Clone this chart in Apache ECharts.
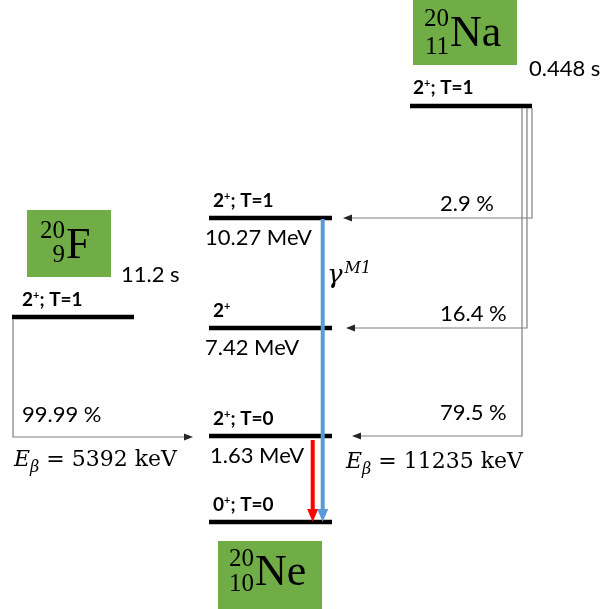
<!DOCTYPE html>
<html>
<head>
<meta charset="utf-8">
<script src="https://cdn.jsdelivr.net/npm/echarts@6/dist/echarts.min.js"></script>
<style>
html,body{margin:0;padding:0;background:#fff;}
#chart{width:603px;height:609px;}
</style>
</head>
<body>
<div id="chart"></div>
<script>
// nuclides: two parents (F, Na) and the daughter Ne
const nuclides = ['F', 'Na', 'Ne'];
const massNumbers = [20, 20, 20];
const atomicNumbers = [9, 11, 10];
const parentSpins = ['2+; T=1', '2+; T=1'];
const parentHalfLives = ['11.2 s', '0.448 s'];

// levels in 20Ne
const neEnergies = [0, 1.63, 7.42, 10.27]; // MeV
const neSpins = ['0+; T=0', '2+; T=0', '2+', '2+; T=1'];

// beta feeding (level index in neEnergies, branch in %)
const fFeedLevels = [1];
const fBranches = [99.99];
const naFeedLevels = [3, 2, 1];
const naBranches = [2.9, 16.4, 79.5];
const betaEndpoints = [5392, 11235]; // keV, F then Na

// gamma transitions
const gammaFrom = [3, 1];
const gammaTo = [0, 0];
const gammaMultipoles = ['M1', ''];

// ---- drawing layout (pixels of the 603x609 frame) ----
const layout = {
	boxes: [[27, 210, 84, 67], [413, 0, 104, 65], [218, 541, 104, 70]],
	symbolAt: [[66, 246], [450, 34], [255, 573]],
	scriptShift: [[-15, 9], [-15, 13], [-14, 11]],
	parentLevels: [[12, 134, 317], [410, 532, 106]],
	parentSpinAt: [[22, 300], [413, 88]],
	halfLifeAt: [[121, 275], [529, 69]],
	neLevelX: [209, 332],
	neLevelY: [522, 436, 328, 218],
	neSpinX: 213,
	neEnergyX: [210, 210, 205, 205],
	feedRoutes: [
		{dropX: 13, tipX: 193, label: [22, 415]},
		{dropX: 532, tipX: 343, label: [440, 204]},
		{dropX: 527, tipX: 346, label: [440, 314]},
		{dropX: 522, tipX: 352, label: [440, 413]}
	],
	endpointAt: [[14, 460], [346, 462]],
	gammaX: [322.7, 312.7],
	gammaStartGap: [1, 4],
	gammaColors: ['#5B9BD5', '#FF0000'],
	gammaLabelAt: [327, 276]
};

const SANS = 'Lato, "Noto Sans", sans-serif';
const SERIF = '"Liberation Serif", serif';
const MATH = '"DejaVu Serif", serif';
const GREEN = '#70AD47';

const feeds = [
	...fFeedLevels.map((lv, k) => ({parent: 0, level: lv, pct: fBranches[k]})),
	...naFeedLevels.map((lv, k) => ({parent: 1, level: lv, pct: naBranches[k]}))
];

function spinRich(s){
	const m = s.match(/^(\d)\+(.*)$/);
	return '{b|' + m[1] + '}{p|+}{b|' + m[2] + '}';
}
const spinStyle = {
	b: {fontFamily: SANS, fontWeight: 'bold', fontSize: 19, fill: '#000'},
	p: {fontFamily: SANS, fontWeight: 'bold', fontSize: 11, fill: '#000', verticalAlign: 'top', padding: [0, 0, 9, 0]}
};

function arrowHead(tip, dx, dy, len, half, color){
	const bx = tip[0] - dx * len, by = tip[1] - dy * len;
	return {
		type: 'polygon',
		shape: {points: [tip, [bx - dy * half, by + dx * half], [bx + dy * half, by - dx * half]]},
		style: {fill: color}
	};
}
function txt(p, text, font, size, extra){
	return {type: 'text', x: p[0], y: p[1], style: Object.assign({
		text: text, fontFamily: font, fontSize: size, fill: '#000', align: 'left', verticalAlign: 'middle'
	}, extra || {})};
}
function levelLine(a, b){
	return {type: 'line', shape: {x1: a[0], y1: a[1], x2: b[0], y2: b[1]}, style: {stroke: '#000', lineWidth: 4.5}};
}

const chart = echarts.init(document.getElementById('chart'));

const option = {
	animation: false,
	grid: {left: 0, right: 0, top: 0, bottom: 0},
	xAxis: {type: 'value', min: 0, max: 603, show: false},
	yAxis: {type: 'value', min: 0, max: 609, inverse: true, show: false},
	series: [
		{
			name: 'nuclides', type: 'custom', coordinateSystem: 'cartesian2d',
			data: nuclides.map((n, i) => layout.symbolAt[i]),
			renderItem: function(params, api){
				const i = params.dataIndex;
				const b = layout.boxes[i];
				const p0 = api.coord([b[0], b[1]]), p1 = api.coord([b[0] + b[2], b[1] + b[3]]);
				const s = api.coord(layout.symbolAt[i]);
				const sh = layout.scriptShift[i];
				return {type: 'group', children: [
					{type: 'rect', shape: {x: p0[0], y: p0[1], width: p1[0] - p0[0], height: p1[1] - p0[1]}, style: {fill: GREEN}},
					txt(s, nuclides[i], SERIF, 44),
					txt([s[0] - 1, s[1] + sh[0]], String(massNumbers[i]), SERIF, 25, {align: 'right'}),
					txt([s[0] - 1, s[1] + sh[1]], String(atomicNumbers[i]), SERIF, 25, {align: 'right'})
				]};
			}
		},
		{
			name: 'parent levels', type: 'custom', coordinateSystem: 'cartesian2d',
			data: parentSpins.map((s, i) => [layout.parentLevels[i][0], layout.parentLevels[i][2]]),
			renderItem: function(params, api){
				const i = params.dataIndex;
				const L = layout.parentLevels[i];
				return {type: 'group', children: [
					levelLine(api.coord([L[0], L[2]]), api.coord([L[1], L[2]])),
					txt(api.coord(layout.parentSpinAt[i]), spinRich(parentSpins[i]), SANS, 19, {rich: spinStyle}),
					txt(api.coord(layout.halfLifeAt[i]), parentHalfLives[i], SANS, 22)
				]};
			}
		},
		{
			name: 'Ne levels', type: 'custom', coordinateSystem: 'cartesian2d',
			data: neEnergies.map((e, i) => [layout.neLevelX[0], layout.neLevelY[i]]),
			renderItem: function(params, api){
				const i = params.dataIndex;
				const y = layout.neLevelY[i];
				const kids = [
					levelLine(api.coord([layout.neLevelX[0], y]), api.coord([layout.neLevelX[1], y])),
					txt(api.coord([layout.neSpinX, y - 17]), spinRich(neSpins[i]), SANS, 19, {rich: spinStyle})
				];
				if(neEnergies[i] > 0){
					kids.push(txt(api.coord([layout.neEnergyX[i], y + 20]), neEnergies[i].toFixed(2) + ' MeV', SANS, 22));
				}
				return {type: 'group', children: kids};
			}
		},
		{
			name: 'beta feeding', type: 'custom', coordinateSystem: 'cartesian2d',
			data: feeds.map((f, k) => [layout.feedRoutes[k].tipX, layout.neLevelY[f.level]]),
			renderItem: function(params, api){
				const k = params.dataIndex;
				const f = feeds[k], r = layout.feedRoutes[k];
				const yTop = layout.parentLevels[f.parent][2] + 2;
				const yLev = layout.neLevelY[f.level] + (f.parent === 0 ? 1 : 0);
				const a = api.coord([r.dropX, yTop]), c = api.coord([r.dropX, yLev]), t = api.coord([r.tipX, yLev]);
				const dir = t[0] > c[0] ? 1 : -1;
				const end = [t[0] - dir * 7, t[1]];
				return {type: 'group', children: [
					{type: 'polyline', shape: {points: [a, c, end]}, style: {stroke: '#7f7f7f', lineWidth: 1.2, fill: null}},
					arrowHead(t, dir, 0, 9, 3.5, '#262626'),
					txt(api.coord(r.label), f.pct + ' %', SANS, 22)
				]};
			}
		},
		{
			name: 'beta endpoints', type: 'custom', coordinateSystem: 'cartesian2d',
			data: betaEndpoints.map((e, i) => layout.endpointAt[i]),
			renderItem: function(params, api){
				const i = params.dataIndex;
				return txt(api.coord(layout.endpointAt[i]), '{e|E}{s|β}{n| = ' + betaEndpoints[i] + ' keV}', MATH, 22, {
					rich: {
						e: {fontFamily: MATH, fontStyle: 'italic', fontSize: 22, fill: '#000'},
						s: {fontFamily: MATH, fontStyle: 'italic', fontSize: 16, fill: '#000', verticalAlign: 'bottom', padding: [16, 0, 0, 0]},
						n: {fontFamily: MATH, fontSize: 22, fill: '#000'}
					}
				});
			}
		},
		{
			name: 'gammas', type: 'custom', coordinateSystem: 'cartesian2d',
			data: gammaFrom.map((lv, i) => [layout.gammaX[i], layout.neLevelY[gammaTo[i]]]),
			renderItem: function(params, api){
				const i = params.dataIndex;
				const x = layout.gammaX[i], col = layout.gammaColors[i];
				const top = api.coord([x, layout.neLevelY[gammaFrom[i]] + layout.gammaStartGap[i]]);
				const tip = api.coord([x, layout.neLevelY[gammaTo[i]]]);
				const kids = [
					{type: 'line', shape: {x1: top[0], y1: top[1], x2: tip[0], y2: tip[1] - 10}, style: {stroke: col, lineWidth: 4}},
					arrowHead(tip, 0, 1, 13, 5.5, col)
				];
				if(gammaMultipoles[i]){
					kids.push(txt(api.coord(layout.gammaLabelAt), '{g|γ}{m|' + gammaMultipoles[i] + '}', MATH, 26, {
						rich: {
							g: {fontFamily: MATH, fontStyle: 'italic', fontSize: 26, fill: '#000'},
							m: {fontFamily: MATH, fontStyle: 'italic', fontSize: 16, fill: '#000', verticalAlign: 'top', padding: [0, 0, 14, 2]}
						}
					}));
				}
				return {type: 'group', children: kids};
			}
		}
	]
};
chart.setOption(option);
</script>
</body>
</html>
